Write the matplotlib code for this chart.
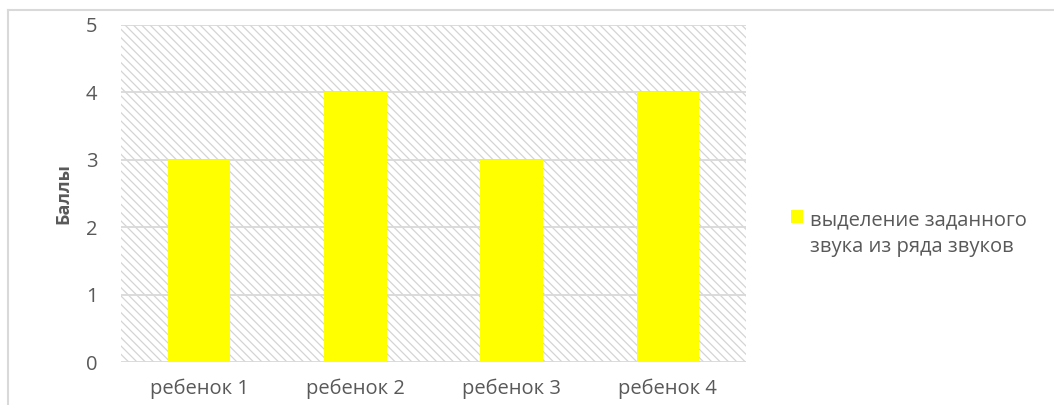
import matplotlib
matplotlib.use("Agg")
import matplotlib.pyplot as plt
from matplotlib.patches import Rectangle
from matplotlib.lines import Line2D

# data
children = ['ребенок 1', 'ребенок 2', 'ребенок 3', 'ребенок 4']
scores = [3, 4, 3, 4]
series_name = 'выделение заданного\nзвука из ряда звуков'
y_ticks = [0, 1, 2, 3, 4, 5]

GRID = '#d9d9d9'
TXT = '#595959'

plt.rcParams['font.family'] = ['Open Sans', 'DejaVu Sans']
plt.rcParams['hatch.color'] = '#d4d4d4'
plt.rcParams['hatch.linewidth'] = 0.9

fig = plt.figure(figsize=(10.54, 4.05), dpi=100)
ax = fig.add_axes([121 / 1054, 43 / 405, 625 / 1054, 337 / 405])

# hatched plot area
ax.add_patch(Rectangle((0, 0), 1, 1, transform=ax.transAxes, facecolor='white',
                       edgecolor='#d4d4d4', hatch='\\\\\\\\', linewidth=0, zorder=0))

for y in y_ticks:
    ax.axhline(y, color=GRID, linewidth=1.3, zorder=1)

x = range(len(children))
ax.bar(x, scores, width=0.4, color='#ffff00', zorder=2, label=series_name)

ax.set_xlim(-0.5, len(children) - 0.5)
ax.set_ylim(0, 5)
ax.set_xticks(list(x))
ax.set_xticklabels(children, fontsize=14.5, color=TXT)
ax.set_yticks(y_ticks)
ax.set_yticklabels([str(v) for v in y_ticks], fontsize=14.5, color=TXT)
ax.tick_params(axis='x', length=0, pad=12)
ax.tick_params(axis='y', length=0, pad=17)
for s in ax.spines.values():
    s.set_visible(False)

ax.set_ylabel('Баллы', fontsize=13, fontweight='bold', color=TXT, labelpad=10)

leg = fig.legend(loc='upper left', bbox_to_anchor=(783 / 1054, 1 - 202 / 405),
                 frameon=False, fontsize=14.5, handlelength=0.6, handleheight=0.6,
                 handletextpad=0.35, labelspacing=0.3, borderaxespad=0)
for t in leg.get_texts():
    t.set_color(TXT)
    t.set_linespacing(1.45)
# keep the colour square next to the first line of the label
for col in leg._legend_handle_box.get_children():
    for item in col.get_children():
        item.align = 'top'

# outer chart frame (top and left edges visible)
fig.add_artist(Line2D([8 / 1054, 8 / 1054], [0, 1 - 10 / 405], transform=fig.transFigure,
                      color=GRID, linewidth=1.5))
fig.add_artist(Line2D([8 / 1054, 1], [1 - 10 / 405, 1 - 10 / 405], transform=fig.transFigure,
                      color=GRID, linewidth=1.5))

fig.savefig('out.png', dpi=100)
